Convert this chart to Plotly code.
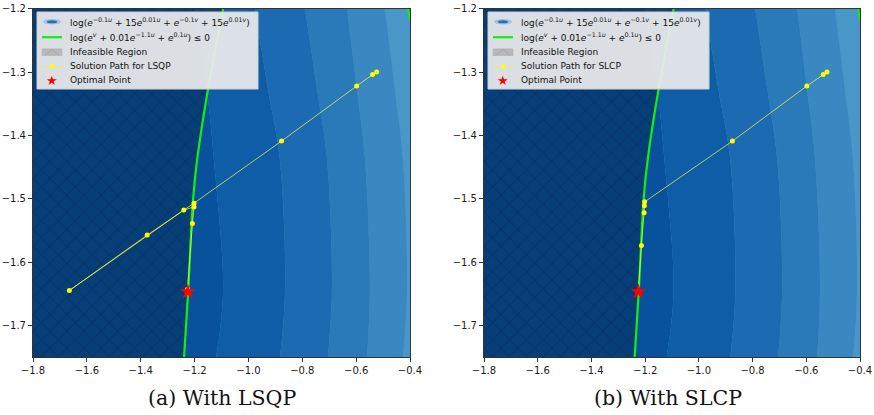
import plotly.graph_objects as go

# ---------------- data ----------------
X_RANGE = [-1.8, -0.4]
Y_RANGE = [-1.75, -1.2]
X_TICKS = [-1.8, -1.6, -1.4, -1.2, -1.0, -0.8, -0.6, -0.4]
Y_TICKS = [-1.7, -1.6, -1.5, -1.4, -1.3, -1.2]

# filled-contour band boundaries (u position at given v levels)
V_LEVELS = [-1.2, -1.328, -1.439, -1.645, -1.75]
BOUNDARY_1 = [-1.198, -1.154, -1.128, -1.094, -1.120]
BOUNDARY_2 = [-0.976, -0.927, -0.883, -0.864, -0.883]
BOUNDARY_3 = [-0.790, -0.745, -0.708, -0.690, -0.705]
BOUNDARY_4 = [-0.634, -0.597, -0.567, -0.549, -0.560]
BOUNDARY_5 = [-0.493, -0.456, -0.426, -0.411, -0.426]
BAND_COLORS = ["#08519c", "#0f5ca7", "#1c6ab1", "#2a79b9", "#3a88c1", "#4997c9"]

# constraint curve log(e^v + 0.01e^{-1.1u} + e^{0.1u}) = 0
CONSTRAINT_U = [-1.094, -1.154, -1.191, -1.206, -1.224, -1.239]
CONSTRAINT_V = [-1.2, -1.337, -1.44, -1.503, -1.648, -1.75]
CONSTRAINT2_U = [-0.407, -0.4]
CONSTRAINT2_V = [-1.2, -1.218]

# solution paths
LSQP_U = [-0.524, -0.539, -0.598, -0.877, -1.202, -1.376, -1.665, -1.240,
          -1.202, -1.208, -1.226]
LSQP_V = [-1.300, -1.304, -1.322, -1.409, -1.507, -1.5575, -1.645, -1.518,
          -1.513, -1.539, -1.643]
SLCP_U = [-0.523, -0.537, -0.598, -0.875, -1.202, -1.203, -1.204, -1.214, -1.225]
SLCP_V = [-1.300, -1.304, -1.322, -1.409, -1.505, -1.511, -1.522, -1.574, -1.646]

OPT_U = [-1.225]
OPT_V = [-1.647]

NAME_OBJ = ("log(<i>e</i><sup>\u22120.1<i>u</i></sup> + 15<i>e</i><sup>0.01<i>u</i></sup>"
            " + <i>e</i><sup>\u22120.1<i>v</i></sup> + 15<i>e</i><sup>0.01<i>v</i></sup>)")
NAME_CON = ("log(<i>e</i><sup><i>v</i></sup> + 0.01<i>e</i><sup>\u22121.1<i>u</i></sup>"
            " + <i>e</i><sup>0.1<i>u</i></sup>) \u2264 0")
NAME_INF = "Infeasible Region"
NAME_OPT = "Optimal Point"
CAPTIONS = ["(a) With LSQP", "(b) With SLCP"]
METHODS = ["LSQP", "SLCP"]

# ---------------- figure ----------------
W, H = 874, 415
fig = go.Figure()

HATCH = dict(shape="x", bgcolor="rgba(0,0,0,0.24)", fgcolor="rgba(0,8,35,0.5)",
             size=12, solidity=0.12)


def add_panel(xa, ya, path_u, path_v):
    common = dict(xaxis=xa, yaxis=ya, showlegend=False, hoverinfo="skip")
    top, bot = V_LEVELS[0], V_LEVELS[-1]
    fig.add_trace(go.Scatter(x=[X_RANGE[0], X_RANGE[0]], y=[top, bot], mode="lines",
                             line=dict(width=0), **common))
    bounds = [BOUNDARY_1, BOUNDARY_2, BOUNDARY_3, BOUNDARY_4, BOUNDARY_5]
    for b, col in zip(bounds, BAND_COLORS[:5]):
        fig.add_trace(go.Scatter(x=b, y=V_LEVELS, mode="lines",
                                 line=dict(width=0, shape="spline"),
                                 fill="tonextx", fillcolor=col, **common))
    fig.add_trace(go.Scatter(x=[X_RANGE[1], X_RANGE[1]], y=[top, bot], mode="lines",
                             line=dict(width=0), fill="tonextx",
                             fillcolor=BAND_COLORS[5], **common))
    # infeasible region (hatched)
    fig.add_trace(go.Scatter(x=[X_RANGE[0], X_RANGE[0]],
                             y=[CONSTRAINT_V[0], CONSTRAINT_V[-1]],
                             mode="lines", line=dict(width=0), **common))
    fig.add_trace(go.Scatter(x=CONSTRAINT_U, y=CONSTRAINT_V, mode="lines",
                             line=dict(width=0, shape="spline"), fill="tonextx",
                             fillcolor="rgba(0,0,0,0.24)", fillpattern=HATCH, **common))
    fig.add_trace(go.Scatter(x=CONSTRAINT2_U + [X_RANGE[1]],
                             y=CONSTRAINT2_V + [Y_RANGE[1]],
                             mode="lines", line=dict(width=0), fill="toself",
                             fillcolor="rgba(0,0,0,0.24)", fillpattern=HATCH, **common))
    # constraint curve
    fig.add_trace(go.Scatter(x=CONSTRAINT_U, y=CONSTRAINT_V, mode="lines",
                             line=dict(color="#11ee11", width=2.2, shape="spline"),
                             **common))
    fig.add_trace(go.Scatter(x=CONSTRAINT2_U, y=CONSTRAINT2_V, mode="lines",
                             line=dict(color="#11ee11", width=2.2), **common))
    # solution path
    fig.add_trace(go.Scatter(x=path_u, y=path_v, mode="lines+markers",
                             line=dict(color="rgba(255,255,60,0.7)", width=1),
                             marker=dict(color="#ffff00", size=5), **common))
    # optimal point
    fig.add_trace(go.Scatter(x=OPT_U, y=OPT_V, mode="markers",
                             marker=dict(symbol="star", size=12, color="#ff0000",
                                         line=dict(width=0)), **common))


add_panel("x", "y", LSQP_U, LSQP_V)
add_panel("x2", "y2", SLCP_U, SLCP_V)

axis_common = dict(showgrid=False, zeroline=False, showline=True, mirror=True,
                   linecolor="#333333", linewidth=1, ticks="outside", ticklen=4,
                   tickwidth=1, tickcolor="#333333", tickformat=".1f", automargin=False,
                   tickfont=dict(family="DejaVu Sans", size=10, color="#1a1a1a"))

Y_DOM = [1 - 357 / H, 1 - 8.75 / H]
fig.update_layout(
    width=W, height=H,
    margin=dict(l=0, r=0, t=0, b=0),
    paper_bgcolor="white", plot_bgcolor=BAND_COLORS[5],
    xaxis=dict(domain=[33 / W, 410 / W], range=X_RANGE, tickvals=X_TICKS,
               anchor="y", **axis_common),
    yaxis=dict(domain=Y_DOM, range=Y_RANGE, tickvals=Y_TICKS, anchor="x", **axis_common),
    xaxis2=dict(domain=[484 / W, 860 / W], range=X_RANGE, tickvals=X_TICKS,
                anchor="y2", **axis_common),
    yaxis2=dict(domain=Y_DOM, range=Y_RANGE, tickvals=Y_TICKS, anchor="x2", **axis_common),
    showlegend=False,
)


# ---------------- legends (drawn in pixel layout) ----------------
def px(x):
    return x / W


def py(y):
    return 1 - y / H


shapes = []
annotations = []


def add_legend(dx, method):
    shapes.append(dict(type="rect", xref="paper", yref="paper",
                       x0=px(37 + dx), x1=px(258 + dx), y0=py(12), y1=py(89),
                       fillcolor="rgba(236,236,236,0.93)",
                       line=dict(color="#cfcfcf", width=1)))
    rows = [21.7, 37.2, 52.2, 66.5, 80.3]
    ix0, ix1, ixm = 42 + dx, 62 + dx, 52 + dx
    # objective (contour) glyph
    shapes.append(dict(type="circle", xref="paper", yref="paper",
                       x0=px(43 + dx), x1=px(61 + dx), y0=py(rows[0] - 2.8),
                       y1=py(rows[0] + 2.8), fillcolor="#9ac5e6", line=dict(width=0)))
    shapes.append(dict(type="circle", xref="paper", yref="paper",
                       x0=px(47 + dx), x1=px(57 + dx), y0=py(rows[0] - 1.5),
                       y1=py(rows[0] + 1.5), fillcolor="#2b6db1", line=dict(width=0)))
    # constraint line
    shapes.append(dict(type="line", xref="paper", yref="paper",
                       x0=px(ix0), x1=px(ix1), y0=py(rows[1]), y1=py(rows[1]),
                       line=dict(color="#11ee11", width=2.2)))
    # infeasible patch
    shapes.append(dict(type="rect", xref="paper", yref="paper",
                       x0=px(ix0), x1=px(ix1), y0=py(rows[2] - 3.3), y1=py(rows[2] + 3.3),
                       fillcolor="#b9b9b9", line=dict(color="#aaaaaa", width=0.5)))
    shapes.append(dict(type="path", xref="paper", yref="paper",
                       path=f"M {px(ix0 + 3)},{py(rows[2] + 3.3)} L {px(ixm)},{py(rows[2] - 3)}"
                            f" L {px(ix1 - 3)},{py(rows[2] + 3.3)}",
                       line=dict(color="#a2a2a2", width=0.8)))
    # solution path
    shapes.append(dict(type="line", xref="paper", yref="paper",
                       x0=px(ix0), x1=px(ix1), y0=py(rows[3]), y1=py(rows[3]),
                       line=dict(color="#eded50", width=1)))
    shapes.append(dict(type="circle", xref="paper", yref="paper",
                       x0=px(ixm - 2.2), x1=px(ixm + 2.2), y0=py(rows[3] - 2.2),
                       y1=py(rows[3] + 2.2), fillcolor="#ffff00", line=dict(width=0)))
    # star
    annotations.append(dict(x=px(ixm), y=py(rows[4] + 0.5), xref="paper", yref="paper",
                            text="\u2605", showarrow=False, xanchor="center",
                            yanchor="middle",
                            font=dict(family="DejaVu Sans", size=13, color="#ff0000")))
    names = [NAME_OBJ, NAME_CON, NAME_INF, "Solution Path for " + method, NAME_OPT]
    for r, t in zip(rows, names):
        annotations.append(dict(x=px(68 + dx), y=py(r), xref="paper", yref="paper",
                                text=t, showarrow=False, xanchor="left", yanchor="middle",
                                font=dict(family="DejaVu Sans", size=9, color="#111111")))


add_legend(0, METHODS[0])
add_legend(451, METHODS[1])

for cx, txt in zip([221.5, 668.0], CAPTIONS):
    annotations.append(dict(x=px(cx), y=py(398), xref="paper", yref="paper",
                            text=txt, showarrow=False, xanchor="center", yanchor="middle",
                            font=dict(family="DejaVu Serif", size=20.5, color="#111111")))

fig.update_layout(shapes=shapes, annotations=annotations)

fig.write_html("out.html",
               config={"displayModeBar": False, "staticPlot": True},
               post_script="document.body.style.margin='0px';"
                           "document.body.style.overflow='hidden';")
